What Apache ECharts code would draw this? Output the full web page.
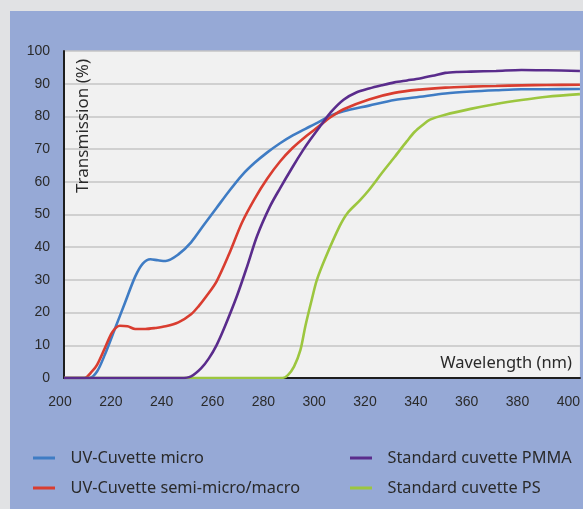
<!DOCTYPE html>
<html>
<head>
<meta charset="utf-8">
<script src="https://cdn.jsdelivr.net/npm/echarts@6/dist/echarts.min.js"></script>
<style>
html,body{margin:0;padding:0;background:#e1e2e4;width:583px;height:509px;overflow:hidden;}
#chart{position:absolute;left:10px;top:11px;width:573px;height:498px;}
</style>
</head>
<body>
<div id="chart"></div>
<script>
// Tick labels
const xTicks = [200, 220, 240, 260, 280, 300, 320, 340, 360, 380, 400];
const yTicks = [0, 10, 20, 30, 40, 50, 60, 70, 80, 90, 100];

// Series names
const seriesNames = ['UV-Cuvette micro', 'UV-Cuvette semi-micro/macro', 'Standard cuvette PMMA', 'Standard cuvette PS'];

// UV-Cuvette micro
const microWl = [200, 210, 213, 216, 220, 224, 228, 231, 234, 237, 240, 245, 250, 255, 260, 265, 270, 275, 280, 285, 290, 295, 300, 305, 310, 320, 330, 340, 350, 360, 370, 380, 390, 403];
const microT  = [0, 0, 2, 7, 15, 23, 31, 35, 36.3, 36, 35.8, 37.8, 41.5, 46.8, 52, 57.2, 62, 65.8, 69, 71.8, 74.2, 76.2, 78.2, 80.3, 81.6, 83.3, 85, 86, 87, 87.6, 88, 88.3, 88.3, 88.4];

// UV-Cuvette semi-micro/macro
const semiWl = [200, 208, 211, 213, 216, 219, 222, 225, 228, 232, 236, 240, 245, 250, 253, 256, 260, 265, 270, 275, 280, 285, 290, 295, 300, 305, 310, 320, 330, 340, 350, 360, 370, 380, 390, 403];
const semiT  = [0, 0, 2, 4, 9, 14, 16, 15.8, 15, 15, 15.3, 15.8, 17, 19.5, 22, 25, 29.5, 38, 47.5, 54.8, 61, 66.2, 70.4, 73.8, 76.8, 79.8, 82.2, 85.2, 87.2, 88.2, 88.8, 89.1, 89.3, 89.5, 89.6, 89.7];

// Standard cuvette PMMA
const pmmaWl = [200, 246, 250, 254, 257, 260, 263, 268, 272, 276, 281, 285, 290, 294, 297, 301, 305, 310, 315, 320, 325, 330, 335, 340, 345, 350, 355, 360, 370, 380, 390, 403];
const pmmaT  = [0, 0, 0.5, 3, 6, 10, 15.2, 25, 34, 43.5, 52.4, 58, 64.6, 69.6, 73, 77.2, 81.3, 85.1, 87.3, 88.5, 89.5, 90.4, 91, 91.6, 92.4, 93.3, 93.6, 93.7, 93.9, 94.2, 94.1, 93.9];

// Standard cuvette PS
const psWl = [200, 286, 288, 290.5, 293, 295, 297.5, 299.5, 303, 308.5, 311.5, 316.5, 320, 325, 330, 335, 338, 341, 344, 350, 360, 370, 380, 390, 403];
const psT  = [0, 0, 0.8, 3.5, 8.5, 16, 24, 30, 37, 46.5, 50.4, 54.4, 57.5, 62.6, 67.5, 72.5, 75.3, 77.3, 79, 80.5, 82.3, 83.8, 85, 86, 86.8];

const colors = ['#3f7cc4', '#d93d30', '#5a2c8c', '#9cc63f'];

function pairs(xs, ys) { return xs.map((x, i) => [x, ys[i]]); }

const chart = echarts.init(document.getElementById('chart'), null, {renderer: 'canvas'});
const lineSeries = [
  pairs(microWl, microT),
  pairs(semiWl, semiT),
  pairs(pmmaWl, pmmaT),
  pairs(psWl, psT)
].map((d, i) => ({
  name: seriesNames[i],
  type: 'line',
  data: d,
  smooth: 0.3,
  symbol: 'none',
  lineStyle: {width: 2.6, color: colors[i]},
  itemStyle: {color: colors[i]},
  z: 3 + (i === 2 ? 1 : 0)
}));

const legendText = {fontFamily: 'Noto Sans', fontSize: 16.3, lineHeight: 16, color: '#2a2a2a', padding: [0, 0, 0, 10.5]};

chart.setOption({
  backgroundColor: '#96a9d6',
  animation: false,
  color: colors,
  grid: {
    left: 54, top: 40, width: 516, height: 327,
    show: true, backgroundColor: '#f1f1f1', borderWidth: 0
  },
  xAxis: {
    type: 'value',
    min: xTicks[0], max: 403, interval: 20,
    axisLine: {show: true, onZero: false, lineStyle: {color: '#1e1e1e', width: 2}},
    axisTick: {show: false},
    splitLine: {show: false},
    axisLabel: {
      showMaxLabel: false,
      margin: 17,
      fontFamily: 'Liberation Sans', fontSize: 14, color: '#2a2a2a',
      padding: [0, 8, 0, 0]
    }
  },
  yAxis: {
    type: 'value',
    min: yTicks[0], max: yTicks[yTicks.length - 1], interval: 10,
    axisLine: {show: true, lineStyle: {color: '#1e1e1e', width: 2}},
    axisTick: {show: false},
    splitLine: {show: true, lineStyle: {color: '#c4c4c4', width: 1.5}},
    axisLabel: {margin: 14, fontFamily: 'Liberation Sans', fontSize: 14, color: '#2a2a2a'}
  },
  legend: [
    {
      orient: 'vertical', left: 18, top: 434,
      icon: 'rect', itemWidth: 22, itemHeight: 3, itemGap: 14,
      data: [seriesNames[0], seriesNames[1]],
      textStyle: legendText
    },
    {
      orient: 'vertical', left: 335, top: 434,
      icon: 'rect', itemWidth: 22, itemHeight: 3, itemGap: 14,
      data: [seriesNames[2], seriesNames[3]],
      textStyle: legendText
    }
  ],
  graphic: [
    {
      type: 'text', x: 73, y: 115, rotation: Math.PI / 2,
      style: {text: 'Transmission (%)', fontFamily: 'Noto Sans', fontSize: 17, fill: '#2a2a2a',
        align: 'center', verticalAlign: 'middle'},
      z: 10
    },
    {
      type: 'text', x: 562, y: 352,
      style: {text: 'Wavelength (nm)', fontFamily: 'Noto Sans', fontSize: 16.5, fill: '#2a2a2a',
        align: 'right', verticalAlign: 'middle'},
      z: 10
    }
  ],
  series: lineSeries
});
</script>
</body>
</html>
